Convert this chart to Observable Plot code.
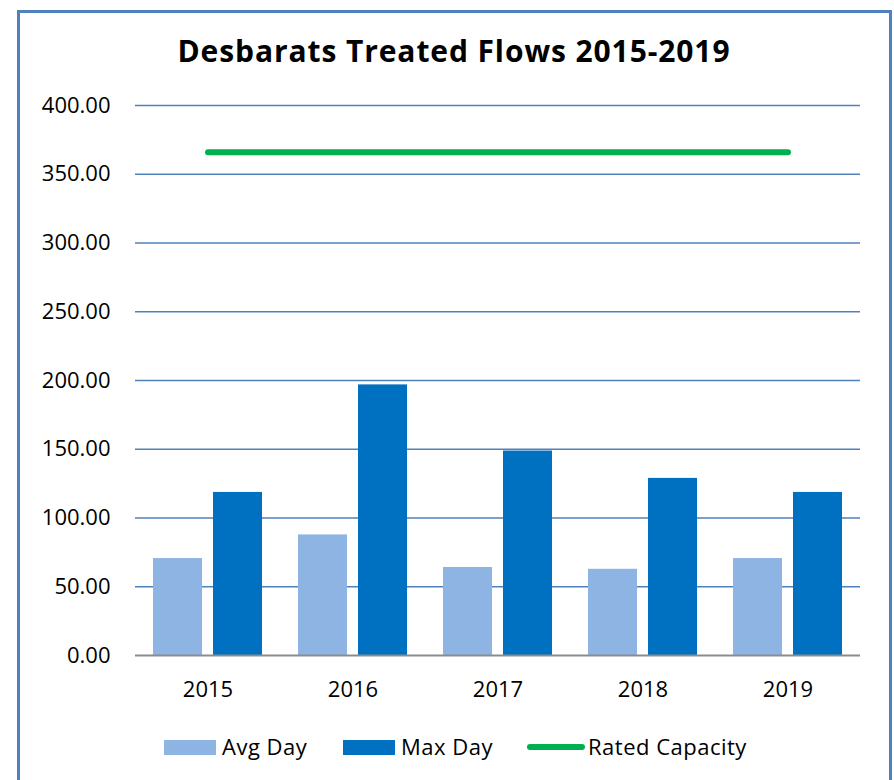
<!DOCTYPE html>
<html>
<head>
<meta charset="utf-8">
<script src="https://cdn.jsdelivr.net/npm/d3@7"></script>
<script src="https://cdn.jsdelivr.net/npm/@observablehq/plot@0.6"></script>
<style>
  html, body { margin: 0; padding: 0; background: #fff; overflow: hidden; }
  body { width: 894px; height: 780px; position: relative; font-family: "Open Sans", Lato, sans-serif; }
  #frame { position: absolute; left: 17px; top: 10px; width: 869px; height: 800px; border: 3px solid #4f81bd; box-sizing: content-box; }
  #title { position: absolute; left: 0; top: 31px; width: 908px; text-align: center; font-weight: bold; font-size: 30px; letter-spacing: 0.9px; line-height: 40px; color: #000; }
  #chart { position: absolute; left: 0; top: 80px; }
  #legend { position: absolute; top: 731px; left: 0; width: 894px; height: 30px; font-size: 22px; letter-spacing: 0.5px; color: #000; white-space: nowrap; }
  .item { position: absolute; top: 0; height: 30px; display: flex; align-items: center; }
  .sw { display: inline-block; width: 52px; height: 15px; margin-right: 6px; margin-top: 2px; }
  .ln { display: inline-block; width: 58px; height: 6px; border-radius: 3px; background: #00b050; margin-right: 3px; margin-top: 1px; }
</style>
</head>
<body>
<div id="frame"></div>
<div id="title">Desbarats Treated Flows 2015-2019</div>
<div id="chart"></div>
<div id="legend">
  <span class="item" style="left:164px"><span class="sw" style="background:#8eb4e3"></span>Avg Day</span>
  <span class="item" style="left:343px"><span class="sw" style="background:#0070c0"></span>Max Day</span>
  <span class="item" style="left:527px"><span class="ln"></span>Rated Capacity</span>
</div>
<script>
const years = ["2015", "2016", "2017", "2018", "2019"];
const avgDay = [70.5, 87.7, 64.0, 62.7, 70.5];
const maxDay = [118.6, 196.8, 148.7, 128.8, 118.6];
const ratedCapacity = [366, 366, 366, 366, 366];
const yTicks = [0, 50, 100, 150, 200, 250, 300, 350, 400];

const rows = years.map((y, i) => ({year: y, avg: avgDay[i], max: maxDay[i], cap: ratedCapacity[i]}));

const chart = Plot.plot({
  width: 894,
  height: 635,
  marginLeft: 135,
  marginRight: 34,
  marginTop: 25,
  marginBottom: 60,
  style: {fontFamily: "'Open Sans', Lato, sans-serif", fontSize: "22px", color: "#000", background: "transparent"},
  x: {domain: years, padding: 0, label: null, tickSize: 0, tickPadding: 26},
  y: {domain: [0, 400], ticks: yTicks, tickFormat: d3.format(".2f"), label: null, tickSize: 0, tickPadding: 25},
  marks: [
    Plot.ruleY(yTicks.filter(d => d > 0), {stroke: "#4f81bd", strokeWidth: 1.6}),
    Plot.barY(rows, {x: "year", y: "avg", fill: "#8eb4e3", insetLeft: 18, insetRight: 78}),
    Plot.barY(rows, {x: "year", y: "max", fill: "#0070c0", insetLeft: 78, insetRight: 18}),
    Plot.ruleY([0], {stroke: "#8c8c8c", strokeWidth: 2}),
    Plot.lineY(rows, {x: "year", y: "cap", stroke: "#00b050", strokeWidth: 6, strokeLinecap: "round"})
  ]
});
document.getElementById("chart").appendChild(chart);
</script>
</body>
</html>
